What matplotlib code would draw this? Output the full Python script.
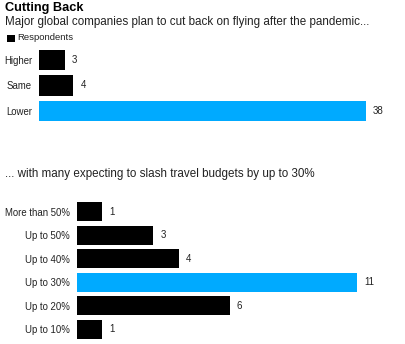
import matplotlib
matplotlib.use("Agg")
import matplotlib.pyplot as plt
from matplotlib.patches import Rectangle

plt.rcParams['font.family'] = ['Liberation Sans', 'DejaVu Sans']

top_cats = ["Higher", "Same", "Lower"]
top_vals = [3, 4, 38]
top_hl = [False, False, True]

bot_cats = ["More than 50%", "Up to 50%", "Up to 40%", "Up to 30%", "Up to 20%", "Up to 10%"]
bot_vals = [1, 3, 4, 11, 6, 1]
bot_hl = [False, False, False, True, False, False]

BLACK = "#000000"
BLUE = "#00AAFF"
W, H = 406, 344

fig = plt.figure(figsize=(W / 100, H / 100), dpi=100)
fig.patch.set_facecolor("white")

def fx(px):
    return px / W

def fy(py):
    return 1 - py / H

fig.text(fx(5), fy(2), "Cutting Back", fontsize=9.2, fontweight="bold", va="top", ha="left")
fig.text(fx(5), fy(16), "Major global companies plan to cut back on flying after the pandemic...",
         fontsize=8.4, va="top", ha="left", color="#222222")
fig.patches.append(Rectangle((fx(7), fy(42)), fx(8), 7 / H, transform=fig.transFigure,
                             facecolor=BLACK, edgecolor="none"))
fig.text(fx(17), fy(38), "Respondents", fontsize=6.8, va="center", ha="left", color="#222222")
fig.text(fx(5), fy(174), "... with many expecting to slash travel budgets by up to 30%",
         fontsize=8.35, va="center", ha="left", color="#222222")


def draw(ax, cats, vals, hl, xmax):
    n = len(cats)
    ys = list(range(n))
    colors = [BLUE if h else BLACK for h in hl]
    ax.barh(ys, vals, height=0.8, color=colors)
    ax.set_ylim(n - 0.5, -0.5)
    ax.set_xlim(0, xmax)
    ax.set_yticks(ys)
    ax.set_yticklabels(cats, fontsize=6.9, color="#222222")
    ax.tick_params(axis="y", length=0, pad=5)
    ax.set_xticks([])
    for s in ax.spines.values():
        s.set_visible(False)
    for y, v in zip(ys, vals):
        ax.annotate(str(v), (v, y), xytext=(5, 0), textcoords="offset points",
                    va="center", ha="left", fontsize=7, color="#222222")
    ax.patch.set_alpha(0)


ax1 = fig.add_axes([fx(39), fy(123.75), fx(327), 76.5 / H])
draw(ax1, top_cats, top_vals, top_hl, 38)

ax2 = fig.add_axes([fx(77), fy(341), fx(280), 141 / H])
draw(ax2, bot_cats, bot_vals, bot_hl, 11)

fig.savefig("out.png", dpi=100)
